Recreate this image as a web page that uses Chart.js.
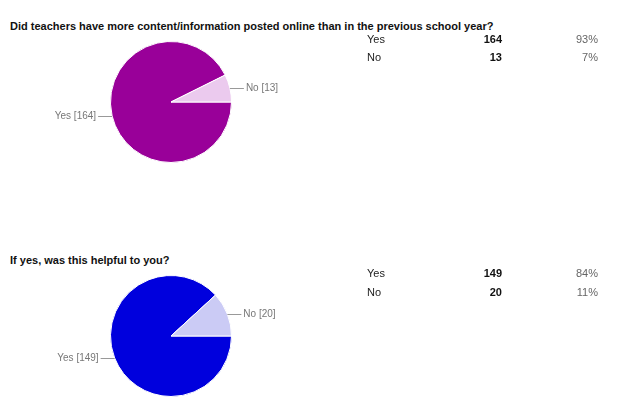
<!DOCTYPE html>
<html>
<head>
<meta charset="utf-8">
<script src="https://cdn.jsdelivr.net/npm/chart.js"></script>
<style>
  body { margin: 0; background: #fff; font-family: 'Liberation Sans', Arial, sans-serif; }
  .wrap { position: relative; width: 640px; height: 401px; overflow: hidden; }
  .title { position: absolute; left: 10px; font-size: 11px; line-height: 13px; font-weight: bold; color: #111; white-space: nowrap; }
  .pie { position: absolute; left: 0; width: 300px; height: 140px; }
  .row { position: absolute; left: 0; width: 640px; height: 14px; font-size: 11px; line-height: 14px; }
  .row span { position: absolute; }
  .ans { left: 367px; color: #222; }
  .cnt { right: 138px; font-weight: bold; color: #111; }
  .pct { right: 42px; color: #666; }
</style>
</head>
<body>
<div class="wrap" id="wrap">
  <div class="title" style="top:20px" id="t0"></div>
  <canvas class="pie" id="pie0" style="top:32px"></canvas>
  <div class="title" style="top:254px" id="t1"></div>
  <canvas class="pie" id="pie1" style="top:266px"></canvas>
</div>
<script>
const questions = [
  'Did teachers have more content/information posted online than in the previous school year?',
  'If yes, was this helpful to you?'
];
const answers = ['Yes', 'No'];
const counts1 = [164, 13];
const counts2 = [149, 20];
const percents1 = ['93%', '7%'];
const percents2 = ['84%', '11%'];

const colors1 = ['#990099', '#ebcaee'];
const colors2 = ['#0000dd', '#cbcbf5'];
const rowTops = [[32, 50], [266, 285]];

// leader lines + "Label [n]" text beside each slice
const sliceLabels = {
  id: 'sliceLabels',
  afterDatasetsDraw(chart) {
    const ctx = chart.ctx;
    const meta = chart.getDatasetMeta(0);
    ctx.save();
    ctx.font = '10px "Liberation Sans", Arial, sans-serif';
    ctx.textBaseline = 'middle';
    ctx.strokeStyle = '#999';
    ctx.fillStyle = '#777';
    ctx.lineWidth = 1;
    meta.data.forEach((arc, i) => {
      const p = arc.getProps(['x', 'y', 'startAngle', 'endAngle', 'outerRadius'], true);
      const mid = (p.startAngle + p.endAngle) / 2;
      const ex = p.x + Math.cos(mid) * p.outerRadius;
      const ey = Math.round(p.y + Math.sin(mid) * p.outerRadius) + 0.5;
      const right = Math.cos(mid) >= 0;
      const lx = right ? ex + 14 : ex - 14;
      ctx.beginPath();
      ctx.moveTo(ex, ey);
      ctx.lineTo(lx, ey);
      ctx.stroke();
      const text = chart.data.labels[i] + ' [' + chart.data.datasets[0].data[i] + ']';
      ctx.textAlign = right ? 'left' : 'right';
      ctx.fillText(text, right ? lx + 2 : lx - 2, ey);
    });
    ctx.restore();
  }
};

function makePie(id, counts, colors) {
  new Chart(document.getElementById(id), {
    type: 'pie',
    data: {
      labels: answers,
      datasets: [{
        data: counts,
        backgroundColor: colors,
        borderColor: '#fff',
        borderWidth: 1
      }]
    },
    options: {
      responsive: false,
      animation: false,
      rotation: 90,
      layout: { padding: { left: 110, right: 68, top: 9, bottom: 9 } },
      plugins: { legend: { display: false }, tooltip: { enabled: false } }
    },
    plugins: [sliceLabels]
  });
}

function makeTable(q, counts, percents) {
  const wrap = document.getElementById('wrap');
  answers.forEach((a, i) => {
    const row = document.createElement('div');
    row.className = 'row';
    row.style.top = rowTops[q][i] + 'px';
    row.innerHTML = '<span class="ans">' + a + '</span>' +
      '<span class="cnt">' + counts[i] + '</span>' +
      '<span class="pct">' + percents[i] + '</span>';
    wrap.appendChild(row);
  });
}

document.getElementById('t0').textContent = questions[0];
document.getElementById('t1').textContent = questions[1];
['pie0', 'pie1'].forEach(id => {
  const c = document.getElementById(id);
  c.width = 300; c.height = 140;
});
makePie('pie0', counts1, colors1);
makePie('pie1', counts2, colors2);
makeTable(0, counts1, percents1);
makeTable(1, counts2, percents2);
</script>
</body>
</html>
